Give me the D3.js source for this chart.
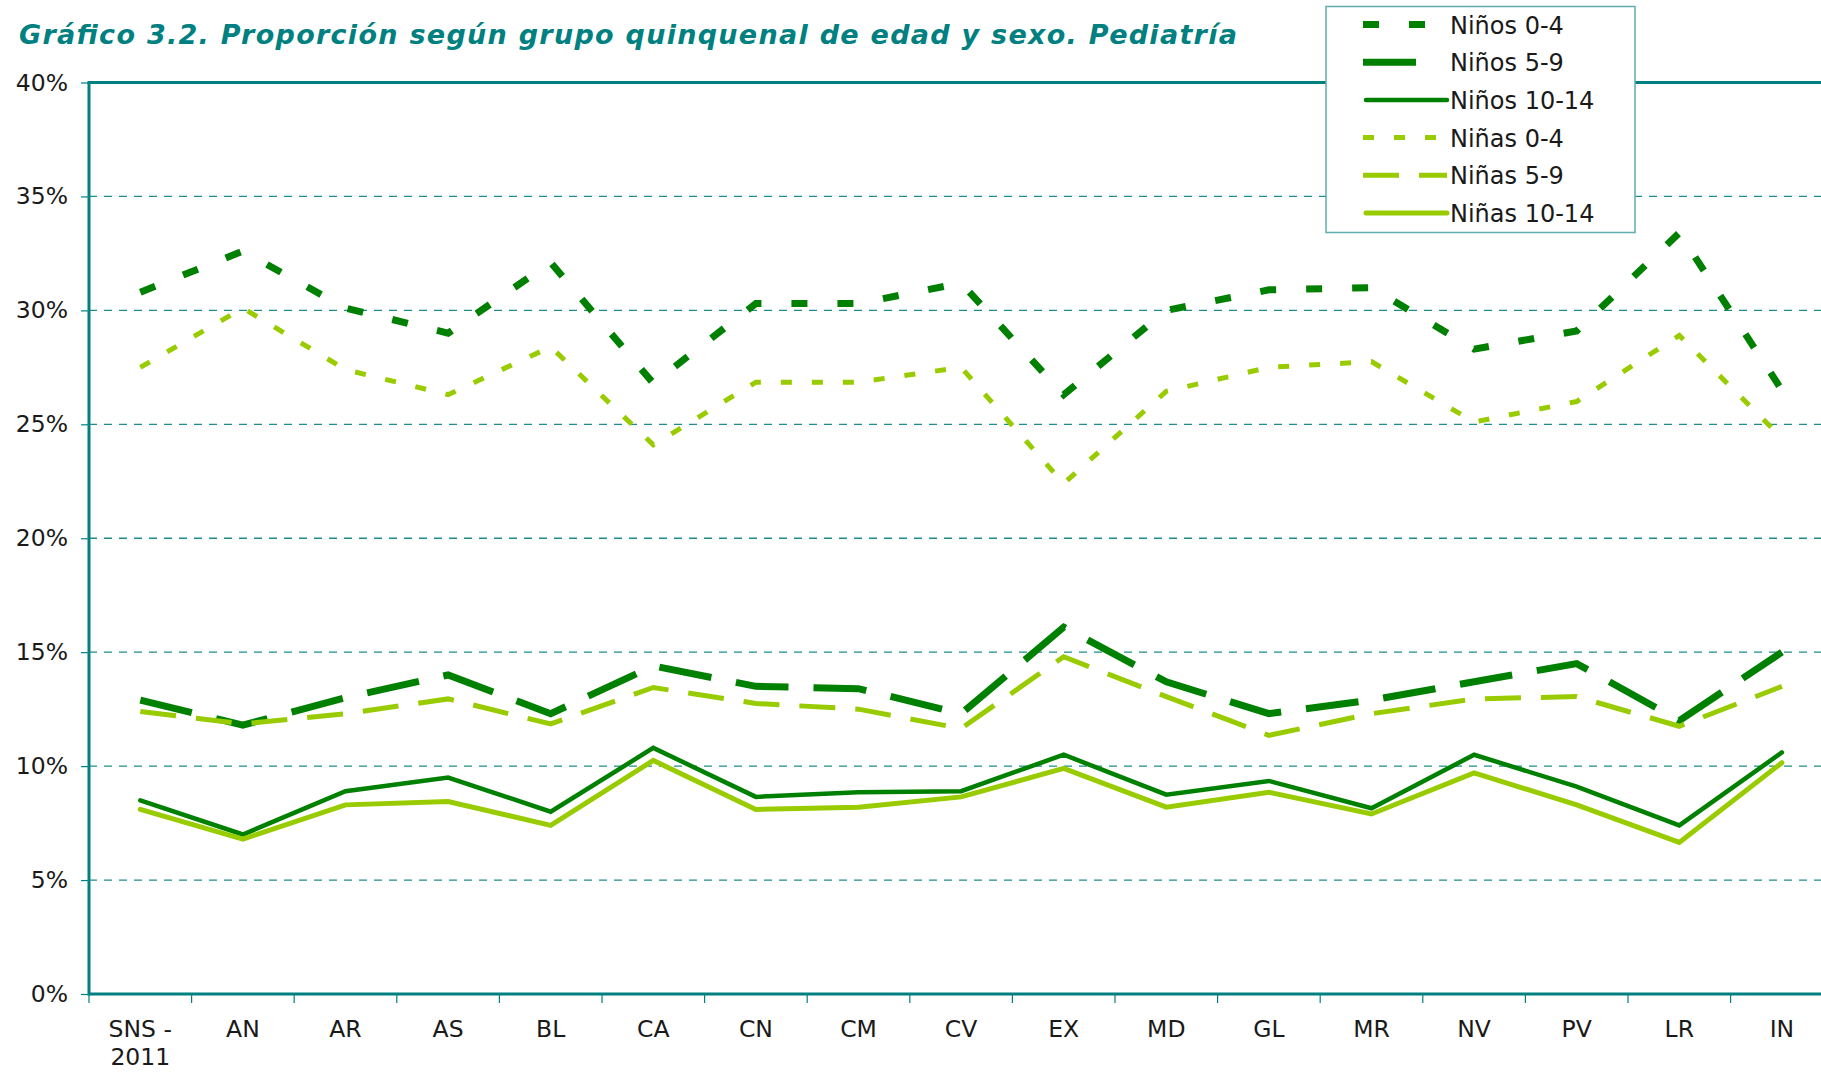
<!DOCTYPE html>
<html>
<head>
<meta charset="utf-8">
<script src="https://cdn.jsdelivr.net/npm/d3@7"></script>
<style>
  body { margin: 0; background: #fff; overflow: hidden; }
  text { font-family: "DejaVu Sans", Verdana, sans-serif; }
</style>
</head>
<body>
<div id="chart"></div>
<script>
// Data (percent)
const categories = ["SNS - 2011", "AN", "AR", "AS", "BL", "CA", "CN", "CM", "CV", "EX", "MD", "GL", "MR", "NV", "PV", "LR", "IN"];

const ninos04   = [30.8, 32.6, 30.1, 29.0, 32.1, 26.8, 30.3, 30.3, 31.2, 26.3, 30.0, 30.9, 31.0, 28.3, 29.1, 33.4, 26.5];
const ninos59   = [12.9, 11.8, 13.0, 14.0, 12.3, 14.4, 13.5, 13.4, 12.3, 16.1, 13.7, 12.3, 12.9, 13.7, 14.5, 12.0, 15.0];
const ninos1014 = [8.5, 7.0, 8.9, 9.5, 8.0, 10.8, 8.65, 8.85, 8.9, 10.5, 8.75, 9.35, 8.15, 10.5, 9.1, 7.4, 10.6];
const ninas04   = [27.5, 30.1, 27.4, 26.3, 28.4, 24.1, 26.85, 26.85, 27.5, 22.4, 26.45, 27.5, 27.75, 25.1, 26.0, 28.9, 24.4];
const ninas59   = [12.4, 11.85, 12.3, 12.95, 11.85, 13.45, 12.75, 12.5, 11.65, 14.8, 13.05, 11.35, 12.3, 12.95, 13.05, 11.75, 13.5];
const ninas1014 = [8.1, 6.8, 8.3, 8.45, 7.4, 10.25, 8.1, 8.2, 8.65, 9.9, 8.2, 8.85, 7.9, 9.7, 8.3, 6.65, 10.15];

const seriesNames = ["Niños 0-4", "Niños 5-9", "Niños 10-14", "Niñas 0-4", "Niñas 5-9", "Niñas 10-14"];
const yTicks = [0, 5, 10, 15, 20, 25, 30, 35, 40];

const dark = "#008000", light = "#99cc00", teal = "#008080";

// line styles per series
const styles = [
  { color: dark,  width: 7, dash: "16,30", legendDash: "16,30", cap: "butt" },
  { color: dark,  width: 7, dash: "53,25", legendDash: "53,31", cap: "butt" },
  { color: dark,  width: 4.5, dash: null, legendDash: null, cap: "round" },
  { color: light, width: 5, dash: "11,20", legendDash: "11,20", cap: "butt" },
  { color: light, width: 5, dash: "36,20", legendDash: "36,20", cap: "butt" },
  { color: light, width: 5, dash: null, legendDash: null, cap: "round" }
];

const series = [ninos04, ninos59, ninos1014, ninas04, ninas59, ninas1014].map((vals, i) => ({
  name: seriesNames[i],
  style: styles[i],
  values: vals.map((v, j) => ({ cat: categories[j], value: v }))
}));

const W = 1821, H = 1072;
const plotLeft = 89, plotTop = 82.5, plotBottom = 994, band = 102.6;

const svg = d3.select("#chart").append("svg")
  .attr("width", W)
  .attr("height", H);

const x = d3.scaleBand().domain(categories).range([plotLeft, plotLeft + band * categories.length]);
const y = d3.scaleLinear().domain([0, 40]).range([plotBottom, plotTop]);

// title
svg.append("text")
  .attr("x", 19)
  .attr("y", 44)
  .attr("fill", teal)
  .attr("textLength", 1218)
  .attr("lengthAdjust", "spacing")
  .style("font-size", "27px")
  .style("font-weight", "bold")
  .style("font-style", "italic")
  .text("Gráfico 3.2. Proporción según grupo quinquenal de edad y sexo. Pediatría");

// gridlines
svg.append("g")
  .selectAll("line")
  .data(yTicks.filter(d => d > 0 && d < 40))
  .enter().append("line")
  .attr("x1", plotLeft)
  .attr("x2", W)
  .attr("y1", d => y(d))
  .attr("y2", d => y(d))
  .attr("stroke", "#1f8c8c")
  .attr("stroke-width", 1.3)
  .attr("stroke-dasharray", "8,7");

// y axis
const yAxis = svg.append("g")
  .attr("transform", `translate(${plotLeft},0)`)
  .call(d3.axisLeft(y).tickValues(yTicks).tickFormat(d => d + "%").tickSize(8).tickPadding(13));
yAxis.select(".domain").remove();
yAxis.selectAll(".tick line").attr("stroke", teal).attr("stroke-width", 1.2);
yAxis.selectAll(".tick text")
  .attr("fill", "#1a1a1a")
  .style("font-size", "23.5px")
  .style("font-family", "'DejaVu Sans', Verdana, sans-serif");

// x ticks at category boundaries
svg.append("g")
  .selectAll("line")
  .data(categories)
  .enter().append("line")
  .attr("x1", d => x(d))
  .attr("x2", d => x(d))
  .attr("y1", plotBottom)
  .attr("y2", plotBottom + 9)
  .attr("stroke", teal)
  .attr("stroke-width", 1.2);

// x labels
const xl = svg.append("g")
  .selectAll("text")
  .data(categories)
  .enter().append("text")
  .attr("text-anchor", "middle")
  .attr("fill", "#1a1a1a")
  .style("font-size", "23.5px")
  .attr("y", 1037);
xl.each(function(d) {
  const parts = d === "SNS - 2011" ? ["SNS -", "2011"] : [d];
  const t = d3.select(this);
  parts.forEach((p, i) => {
    t.append("tspan")
      .attr("x", x(d) + x.bandwidth() / 2)
      .attr("dy", i === 0 ? 0 : 28)
      .text(p);
  });
});

// plot frame: left axis, bottom axis, top border
svg.append("line").attr("x1", plotLeft).attr("x2", plotLeft).attr("y1", plotTop).attr("y2", plotBottom + 1.5)
  .attr("stroke", teal).attr("stroke-width", 3);
svg.append("line").attr("x1", plotLeft).attr("x2", W).attr("y1", plotBottom).attr("y2", plotBottom)
  .attr("stroke", teal).attr("stroke-width", 3);
svg.append("line").attr("x1", plotLeft - 1.5).attr("x2", W).attr("y1", plotTop).attr("y2", plotTop)
  .attr("stroke", teal).attr("stroke-width", 3);

// lines
const line = d3.line()
  .x(d => x(d.cat) + x.bandwidth() / 2)
  .y(d => y(d.value));

svg.append("g")
  .selectAll("path")
  .data(series)
  .enter().append("path")
  .attr("d", d => line(d.values))
  .attr("fill", "none")
  .attr("stroke", d => d.style.color)
  .attr("stroke-width", d => d.style.width)
  .attr("stroke-dasharray", d => d.style.dash)
  .attr("stroke-linecap", d => d.style.cap)
  .attr("stroke-linejoin", "miter");

// legend
const lg = svg.append("g");
lg.append("rect")
  .attr("x", 1326).attr("y", 6.5)
  .attr("width", 309).attr("height", 226)
  .attr("fill", "#fff")
  .attr("stroke", "#5fadad")
  .attr("stroke-width", 1.5);

const rows = lg.selectAll("g.row")
  .data(series)
  .enter().append("g")
  .attr("class", "row")
  .attr("transform", (d, i) => `translate(0,${24.5 + i * 37.7})`);

rows.append("line")
  .attr("x1", d => d.style.cap === "round" ? 1366 : 1363)
  .attr("x2", 1447)
  .attr("y1", 0).attr("y2", 0)
  .attr("stroke", d => d.style.color)
  .attr("stroke-width", d => d.style.width)
  .attr("stroke-dasharray", d => d.style.legendDash)
  .attr("stroke-linecap", d => d.style.cap);

rows.append("text")
  .attr("x", 1450)
  .attr("y", 9)
  .attr("fill", "#1a1a1a")
  .style("font-size", "24px")
  .text(d => d.name);
</script>
</body>
</html>
